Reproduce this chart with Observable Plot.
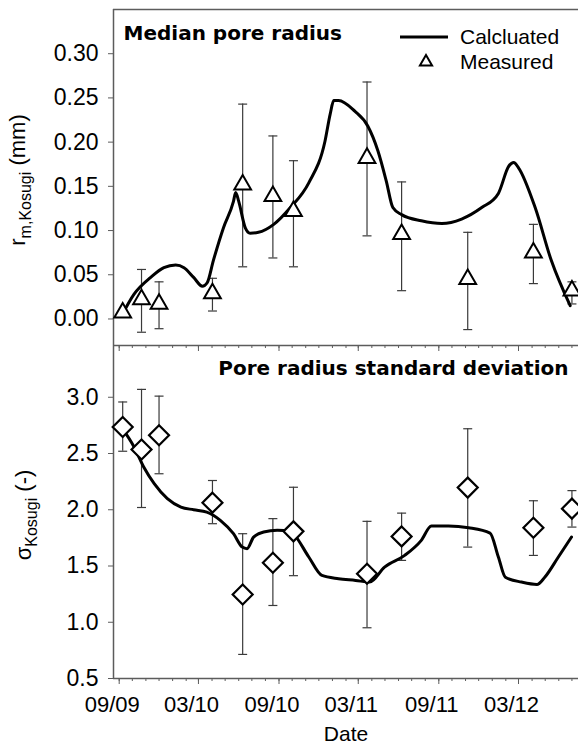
<!DOCTYPE html>
<html>
<head>
<meta charset="utf-8">
<script src="https://cdn.jsdelivr.net/npm/d3@7"></script>
<script src="https://cdn.jsdelivr.net/npm/@observablehq/plot@0.6"></script>
<style>
  body { margin: 0; background: #fff; }
  #wrap { position: relative; width: 578px; height: 746px; overflow: hidden; background: #fff; }
  #wrap svg { position: absolute; left: 0; top: 0; }
</style>
</head>
<body>
<div id="wrap"></div>
<script>
// ---- Measured samples (dates shared by both panels) ----
const measDates = ["2009-09-09","2009-10-22","2009-12-01","2010-04-02","2010-06-10","2010-08-18",
                   "2010-10-04","2011-03-21","2011-06-08","2011-11-06","2012-04-04","2012-07-01"];
const rMeas = [0.007, 0.022, 0.017, 0.029, 0.152, 0.139, 0.122, 0.182, 0.096, 0.045, 0.075, 0.032];
const rLo   = [0.004, -0.015, -0.011, 0.009, 0.059, 0.069, 0.059, 0.094, 0.032, -0.012, 0.040, 0.017];
const rHi   = [0.010, 0.056, 0.042, 0.046, 0.243, 0.207, 0.179, 0.268, 0.155, 0.098, 0.107, 0.042];
const sMeas = [2.736, 2.535, 2.662, 2.063, 1.247, 1.529, 1.808, 1.431, 1.763, 2.197, 1.840, 2.010];
const sLo   = [2.52, 2.02, 2.32, 1.876, 0.714, 1.149, 1.414, 0.951, 1.55, 1.668, 1.594, 1.846];
const sHi   = [2.958, 3.07, 3.01, 2.26, 1.787, 1.921, 2.20, 1.897, 1.97, 2.72, 2.08, 2.17];

// ---- Calculated curves ----
const rCalcDates = ["2009-09-06","2009-10-05","2009-11-12","2009-12-12","2010-01-08","2010-01-27",
  "2010-02-18","2010-03-10","2010-03-21","2010-04-04","2010-04-27","2010-05-20","2010-05-25",
  "2010-06-01","2010-06-16","2010-06-27","2010-07-16","2010-08-20","2010-09-27","2010-11-08",
  "2010-12-15","2010-12-27","2011-01-04","2011-01-15","2011-02-21","2011-03-23","2011-04-15",
  "2011-05-04","2011-05-19","2011-06-08","2011-07-23","2011-09-08","2011-10-23","2011-12-08",
  "2012-01-15","2012-02-08","2012-02-19","2012-03-01","2012-04-08","2012-05-15","2012-06-27"];
const rCalc = [0.003, 0.028, 0.047, 0.058, 0.061, 0.058, 0.047, 0.037, 0.041, 0.066, 0.103, 0.133,
  0.143, 0.133, 0.103, 0.097, 0.098, 0.107, 0.126, 0.154, 0.201, 0.232, 0.247, 0.247, 0.235,
  0.218, 0.190, 0.156, 0.126, 0.118, 0.111, 0.108, 0.113, 0.126, 0.142, 0.173, 0.177, 0.171,
  0.126, 0.066, 0.015];
const sCalcDates = ["2009-09-07","2009-10-05","2009-10-27","2009-11-20","2009-12-20","2010-01-20",
  "2010-02-18","2010-03-20","2010-04-20","2010-05-20","2010-06-09","2010-06-20","2010-07-05",
  "2010-07-28","2010-08-28","2010-09-27","2010-10-04","2010-11-08","2010-12-08","2011-01-15",
  "2011-02-23","2011-03-27","2011-04-30","2011-06-15","2011-07-23","2011-08-15","2011-09-23",
  "2011-11-08","2011-12-27","2012-01-15","2012-01-31","2012-03-08","2012-04-12","2012-04-30",
  "2012-05-31","2012-06-30"];
const sCalc = [2.73, 2.558, 2.38, 2.232, 2.099, 2.024, 2.0, 1.979, 1.906, 1.787, 1.668, 1.654,
  1.757, 1.802, 1.817, 1.81, 1.787, 1.58, 1.416, 1.387, 1.372, 1.357, 1.49, 1.594, 1.728,
  1.855, 1.855, 1.84, 1.793, 1.58, 1.40, 1.357, 1.336, 1.40, 1.58, 1.757];

// ---- Axes ----
const xTickDates = ["2009-09-01","2010-03-01","2010-09-01","2011-03-01","2011-09-01","2012-03-01"];
const xTickLabels = ["09/09","03/10","09/10","03/11","09/11","03/12"];
const rTicks = [0, 0.05, 0.10, 0.15, 0.20, 0.25, 0.30];
const sTicks = [0.5, 1.0, 1.5, 2.0, 2.5, 3.0];

const parse = d3.utcParse("%Y-%m-%d");
const xDomain = [parse("2009-08-19"), parse("2012-07-16")];
const rDomain = [-0.03, 0.35];
const sDomain = [0.5, 3.46];
const frameColor = "#5c5c5c";
const barColor = "#3a3a3a";
const font = "'Liberation Sans', Arial, Helvetica, sans-serif";
const boldFont = "'DejaVu Sans', sans-serif";

const meas = measDates.map((d, i) => ({
  date: parse(d), r: rMeas[i], rLo: rLo[i], rHi: rHi[i], s: sMeas[i], sLo: sLo[i], sHi: sHi[i]
}));
const calcR = rCalcDates.map((d, i) => ({date: parse(d), v: rCalc[i]}));
const calcS = sCalcDates.map((d, i) => ({date: parse(d), v: sCalc[i]}));
const monthTicks = d3.utcMonth.range(parse("2009-09-01"), parse("2012-08-01"));
const majorTicks = xTickDates.map(parse);
const labelOf = new Map(majorTicks.map((d, i) => [+d, xTickLabels[i]]));

const cap = {draw(ctx, size) { const r = Math.sqrt(size / Math.PI); ctx.moveTo(-r, 0); ctx.lineTo(r, 0); }};

function errorMarks(yLo, yHi) {
  return [
    Plot.ruleX(meas, {x: "date", y1: yLo, y2: yHi, stroke: barColor, strokeWidth: 1.2}),
    Plot.dot(meas, {x: "date", y: yLo, symbol: cap, r: 4.5, stroke: barColor, fill: "none", strokeWidth: 1.2}),
    Plot.dot(meas, {x: "date", y: yHi, symbol: cap, r: 4.5, stroke: barColor, fill: "none", strokeWidth: 1.2})
  ];
}

const topPlot = Plot.plot({
  width: 578, height: 360,
  marginTop: 9, marginBottom: 15, marginLeft: 113, marginRight: 0,
  style: {background: "none", fontFamily: font, overflow: "visible", color: "black"},
  x: {type: "utc", domain: xDomain, label: null},
  y: {domain: rDomain, label: null},
  marks: [
    Plot.ruleY([rDomain[1]], {stroke: frameColor, strokeWidth: 1.5}),
    Plot.ruleY([rDomain[0]], {stroke: frameColor, strokeWidth: 1.5}),
    Plot.ruleX([xDomain[0]], {stroke: frameColor, strokeWidth: 1.5}),
    Plot.axisY(rTicks, {tickSize: 5, tickPadding: 10, tickFormat: d3.format(".2f"), fontSize: 23,
      stroke: frameColor, fill: "black", label: null}),
    Plot.axisX(monthTicks, {tickSize: 3, tickFormat: () => "", stroke: frameColor, label: null}),
    Plot.axisX(majorTicks, {tickSize: 6, tickFormat: () => "", stroke: frameColor, label: null}),
    ...errorMarks("rLo", "rHi"),
    Plot.line(calcR, {x: "date", y: "v", curve: "monotone-x", stroke: "black", strokeWidth: 3}),
    Plot.dot(meas, {x: "date", y: "r", symbol: "triangle2", r: 8, stroke: "black", fill: "white", strokeWidth: 2}),
    Plot.text(["Median pore radius"], {text: d => d, frameAnchor: "top-left", dx: 10, dy: 16,
      textAnchor: "start", lineAnchor: "top", fontSize: 20, fontWeight: "bold", fontFamily: boldFont, fill: "black"})
  ]
});

const botPlot = Plot.plot({
  width: 578, height: 746,
  marginTop: 345, marginBottom: 68, marginLeft: 113, marginRight: 0,
  style: {background: "none", fontFamily: font, overflow: "visible", color: "black"},
  x: {type: "utc", domain: xDomain, label: null},
  y: {domain: sDomain, label: null},
  marks: [
    Plot.ruleY([sDomain[0]], {stroke: frameColor, strokeWidth: 1.5}),
    Plot.ruleX([xDomain[0]], {stroke: frameColor, strokeWidth: 1.5}),
    Plot.axisY(sTicks, {tickSize: 5, tickPadding: 10, tickFormat: d3.format(".1f"), fontSize: 23,
      stroke: frameColor, fill: "black", label: null}),
    Plot.axisX(monthTicks, {tickSize: 3, tickFormat: () => "", stroke: frameColor, label: null}),
    Plot.axisX(majorTicks, {tickSize: 6, tickFormat: () => "", stroke: frameColor, label: null}),
    Plot.axisX(majorTicks, {tickSize: 0, tickPadding: 18, dx: -7, tickFormat: d => labelOf.get(+d),
      fontSize: 22, fill: "black", label: null}),
    ...errorMarks("sLo", "sHi"),
    Plot.line(calcS, {x: "date", y: "v", curve: "monotone-x", stroke: "black", strokeWidth: 3}),
    Plot.dot(meas, {x: "date", y: "s", symbol: "diamond2", r: 9, stroke: "black", fill: "white", strokeWidth: 2.2}),
    Plot.text(["Pore radius standard deviation"], {text: d => d, frameAnchor: "top-right", dx: -10, dy: 15,
      textAnchor: "end", lineAnchor: "top", fontSize: 20, fontWeight: "bold", fontFamily: boldFont, fill: "black"}),
    Plot.text(["Date"], {text: d => d, frameAnchor: "bottom", dy: 48, lineAnchor: "top", fontSize: 21, fill: "black"})
  ]
});

const wrap = document.getElementById("wrap");
wrap.appendChild(botPlot);
wrap.appendChild(topPlot);

// Y-axis titles with subscripts
function yTitle(svg, x, y, main, sub, tail) {
  const t = d3.select(svg).append("text")
    .attr("transform", `translate(${x},${y}) rotate(-90)`)
    .attr("text-anchor", "middle")
    .attr("font-family", font).attr("font-size", 22).attr("fill", "black");
  t.append("tspan").text(main);
  t.append("tspan").attr("dy", 6).attr("font-size", 16).text(sub);
  t.append("tspan").attr("dy", -6).text(" " + tail);
}
yTitle(topPlot, 25, 180, "r", "m,Kosugi", "(mm)");
yTitle(botPlot, 31, 515, "σ", "Kosugi", "(-)");

// Legend
const lg = d3.select(topPlot).append("g")
  .attr("font-family", font).attr("font-size", 21).attr("fill", "black").attr("text-anchor", "start");
lg.append("line").attr("x1", 400).attr("x2", 448).attr("y1", 37).attr("y2", 37)
  .attr("stroke", "black").attr("stroke-width", 3);
lg.append("text").attr("x", 460).attr("y", 37).attr("dy", "0.35em").attr("text-anchor", "start").text("Calcluated");
lg.append("path").attr("transform", "translate(426,62)")
  .attr("d", d3.symbol(d3.symbolTriangle2, Math.PI * 5.8 * 5.8)())
  .attr("fill", "white").attr("stroke", "black").attr("stroke-width", 2);
lg.append("text").attr("x", 460).attr("y", 62).attr("dy", "0.35em").attr("text-anchor", "start").text("Measured");
</script>
</body>
</html>
